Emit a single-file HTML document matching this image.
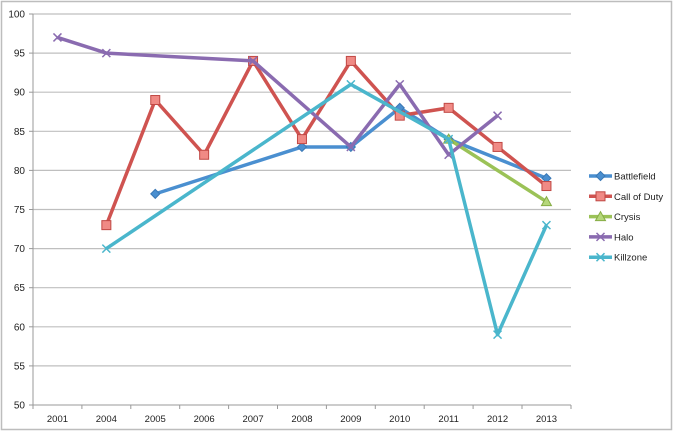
<!DOCTYPE html><html><head><meta charset="utf-8"><style>body{margin:0;background:#fff}svg{display:block;font-family:"Liberation Sans",sans-serif}</style></head><body>
<svg width="673" height="431" viewBox="0 0 673 431">
<rect x="1.5" y="1.5" width="670" height="428" fill="#fff" stroke="#bdbdbd" stroke-width="1.5"/>
<g id="g"></g>
</svg>
<script>
const s=document.querySelector('svg'),NS='http://www.w3.org/2000/svg';
function el(t,a,txt){const e=document.createElementNS(NS,t);for(const k in a)e.setAttribute(k,a[k]);if(txt!=null)e.textContent=txt;s.appendChild(e);return e;}
const X0=33,W=48.9,yv=v=>405-(v-50)*7.82,xi=i=>X0+W*(i+0.5);
for(let v=50;v<=100;v+=5){const y=yv(v);if(v>50)el('line',{x1:X0,x2:571,y1:y,y2:y,stroke:'#bfbfbf','stroke-width':1.2});
el('line',{x1:29,x2:X0,y1:y,y2:y,stroke:'#999'});el('text',{x:25,y:y+3.5,'font-size':10,'text-anchor':'end',fill:'#222'},v);}
el('line',{x1:X0,x2:X0,y1:yv(100),y2:405,stroke:'#999'});el('line',{x1:X0,x2:571,y1:405,y2:405,stroke:'#999'});
const yrs=[2001,2004,2005,2006,2007,2008,2009,2010,2011,2012,2013];
yrs.forEach((y,i)=>{el('line',{x1:X0+W*i,x2:X0+W*i,y1:405,y2:409,stroke:'#999'});el('text',{x:xi(i),y:422,'font-size':9.5,'text-anchor':'middle',fill:'#222'},y);});
el('line',{x1:571,x2:571,y1:405,y2:409,stroke:'#999'});
const S=[
['Battlefield','#4a8fd0',{2005:77,2008:83,2009:83,2010:88,2011:84,2013:79},'d'],
['Call of Duty','#cf5350',{2004:73,2005:89,2006:82,2007:94,2008:84,2009:94,2010:87,2011:88,2012:83,2013:78},'s'],
['Crysis','#9bc257',{2011:84,2013:76},'t'],
['Halo','#8a6bb0',{2001:97,2004:95,2007:94,2009:83,2010:91,2011:82,2012:87},'x'],
['Killzone','#4ab6cc',{2004:70,2009:91,2011:84,2012:59,2013:73},'x']];
function mark(x,y,c,m){
if(m=='d')el('polygon',{points:`${x},${y-4.5} ${x+4.5},${y} ${x},${y+4.5} ${x-4.5},${y}`,fill:c,stroke:'#3a78b5'});
else if(m=='s')el('rect',{x:x-4.5,y:y-4.5,width:9,height:9,fill:'#f08a85',stroke:'#c04844'});
else if(m=='t')el('polygon',{points:`${x},${y-5} ${x+5},${y+4} ${x-5},${y+4}`,fill:'#b5d77a',stroke:'#86ad45'});
else{el('path',{d:`M${x-4},${y-4}L${x+4},${y+4}M${x+4},${y-4}L${x-4},${y+4}`,stroke:c,'stroke-width':1.5});}
}
S.forEach(([n,c,d,m],k)=>{const pts=yrs.map((y,i)=>d[y]!=null?[xi(i),yv(d[y])]:null).filter(p=>p);
el('polyline',{points:pts.map(p=>p.join(',')).join(' '),fill:'none',stroke:c,'stroke-width':3.5,'stroke-linejoin':'round'});
pts.forEach(p=>mark(p[0],p[1],c,m));
const ly=176+k*20.3;el('line',{x1:589,x2:612,y1:ly,y2:ly,stroke:c,'stroke-width':3.5});mark(600.5,ly,c,m);
el('text',{x:614,y:ly+3.5,'font-size':9.5,fill:'#222'},n);});
</script>
</body></html>
